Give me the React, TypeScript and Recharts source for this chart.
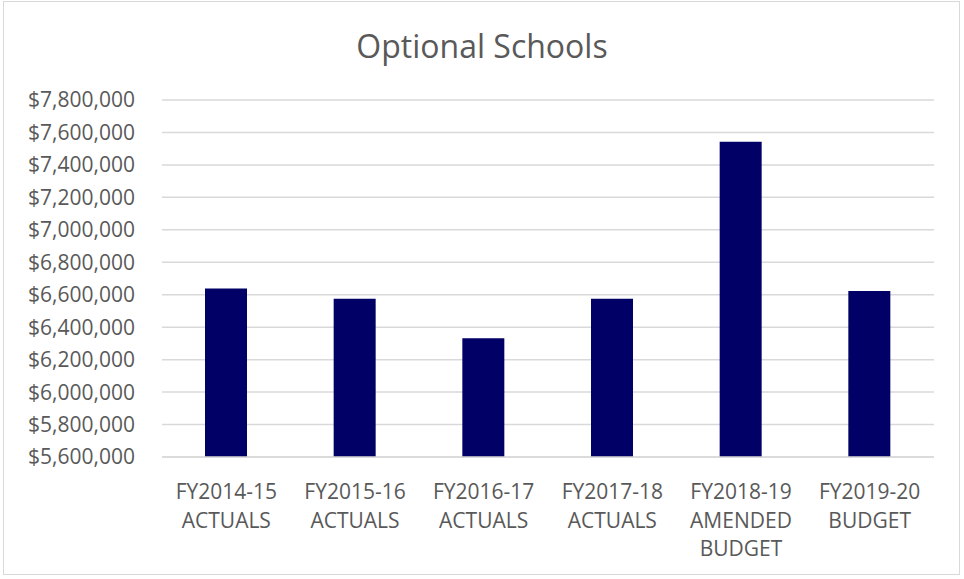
import { Bar, BarChart, CartesianGrid, XAxis, YAxis } from "recharts";

const categories = [
  "FY2014-15 ACTUALS",
  "FY2015-16 ACTUALS",
  "FY2016-17 ACTUALS",
  "FY2017-18 ACTUALS",
  "FY2018-19 AMENDED BUDGET",
  "FY2019-20 BUDGET",
];

const spending = [6639000, 6575000, 6332000, 6575000, 7542000, 6623000];

const yTicks = [
  5600000, 5800000, 6000000, 6200000, 6400000, 6600000, 6800000, 7000000, 7200000, 7400000,
  7600000, 7800000,
];

const data = categories.map((name, i) => ({ name, value: spending[i] }));

const textColor = "#595959";
const fontFamily = "'Open Sans', 'Noto Sans', sans-serif";

function formatDollar(v: number): string {
  return "$" + v.toLocaleString("en-US");
}

// Excel-style wrapped category label: "FY2018-19" on top, the rest below
function CategoryTick({ x, y, payload }: { x?: number; y?: number; payload?: { value: string } }) {
  const label = payload?.value ?? "";
  const lines = label.split(" ");
  return (
    <text x={x} y={y} textAnchor="middle" fill={textColor} fontSize={21} fontFamily={fontFamily}>
      {lines.map((line, i) => (
        <tspan key={i} x={x} y={(y ?? 0) + 34 + i * 28.5}>
          {line}
        </tspan>
      ))}
    </text>
  );
}

export default function App() {
  return (
    <div style={{ position: "relative", width: 964, height: 579, background: "#fff" }}>
      <style>{`body{margin:0}`}</style>
      <div
        style={{
          position: "absolute",
          left: 3,
          top: 1,
          width: 957,
          height: 574,
          border: "1px solid #d9d9d9",
          boxSizing: "border-box",
        }}
      />
      <div
        style={{
          position: "absolute",
          left: 0,
          top: 26,
          width: 964,
          textAlign: "center",
          fontFamily,
          fontSize: 32,
          lineHeight: "40px",
          color: textColor,
        }}
      >
        Optional Schools
      </div>
      <BarChart
        width={964}
        height={579}
        data={data}
        margin={{ top: 100, right: 30, bottom: 12, left: 0 }}
        barSize={42}
        style={{ position: "absolute", left: 0, top: 0 }}
      >
        <CartesianGrid vertical={false} stroke="#d9d9d9" strokeWidth={1.5} />
        <XAxis
          dataKey="name"
          interval={0}
          tick={<CategoryTick />}
          tickLine={false}
          axisLine={{ stroke: "#d9d9d9", strokeWidth: 1.5 }}
          height={110}
        />
        <YAxis
          domain={[5600000, 7800000]}
          ticks={yTicks}
          tickFormatter={formatDollar}
          width={162}
          axisLine={false}
          tickLine={false}
          tickSize={0}
          tickMargin={27}
          interval={0}
          tick={{ fill: textColor, fontSize: 21, fontFamily }}
        />
        <Bar dataKey="value" fill="#000066" isAnimationActive={false} />
      </BarChart>
    </div>
  );
}
